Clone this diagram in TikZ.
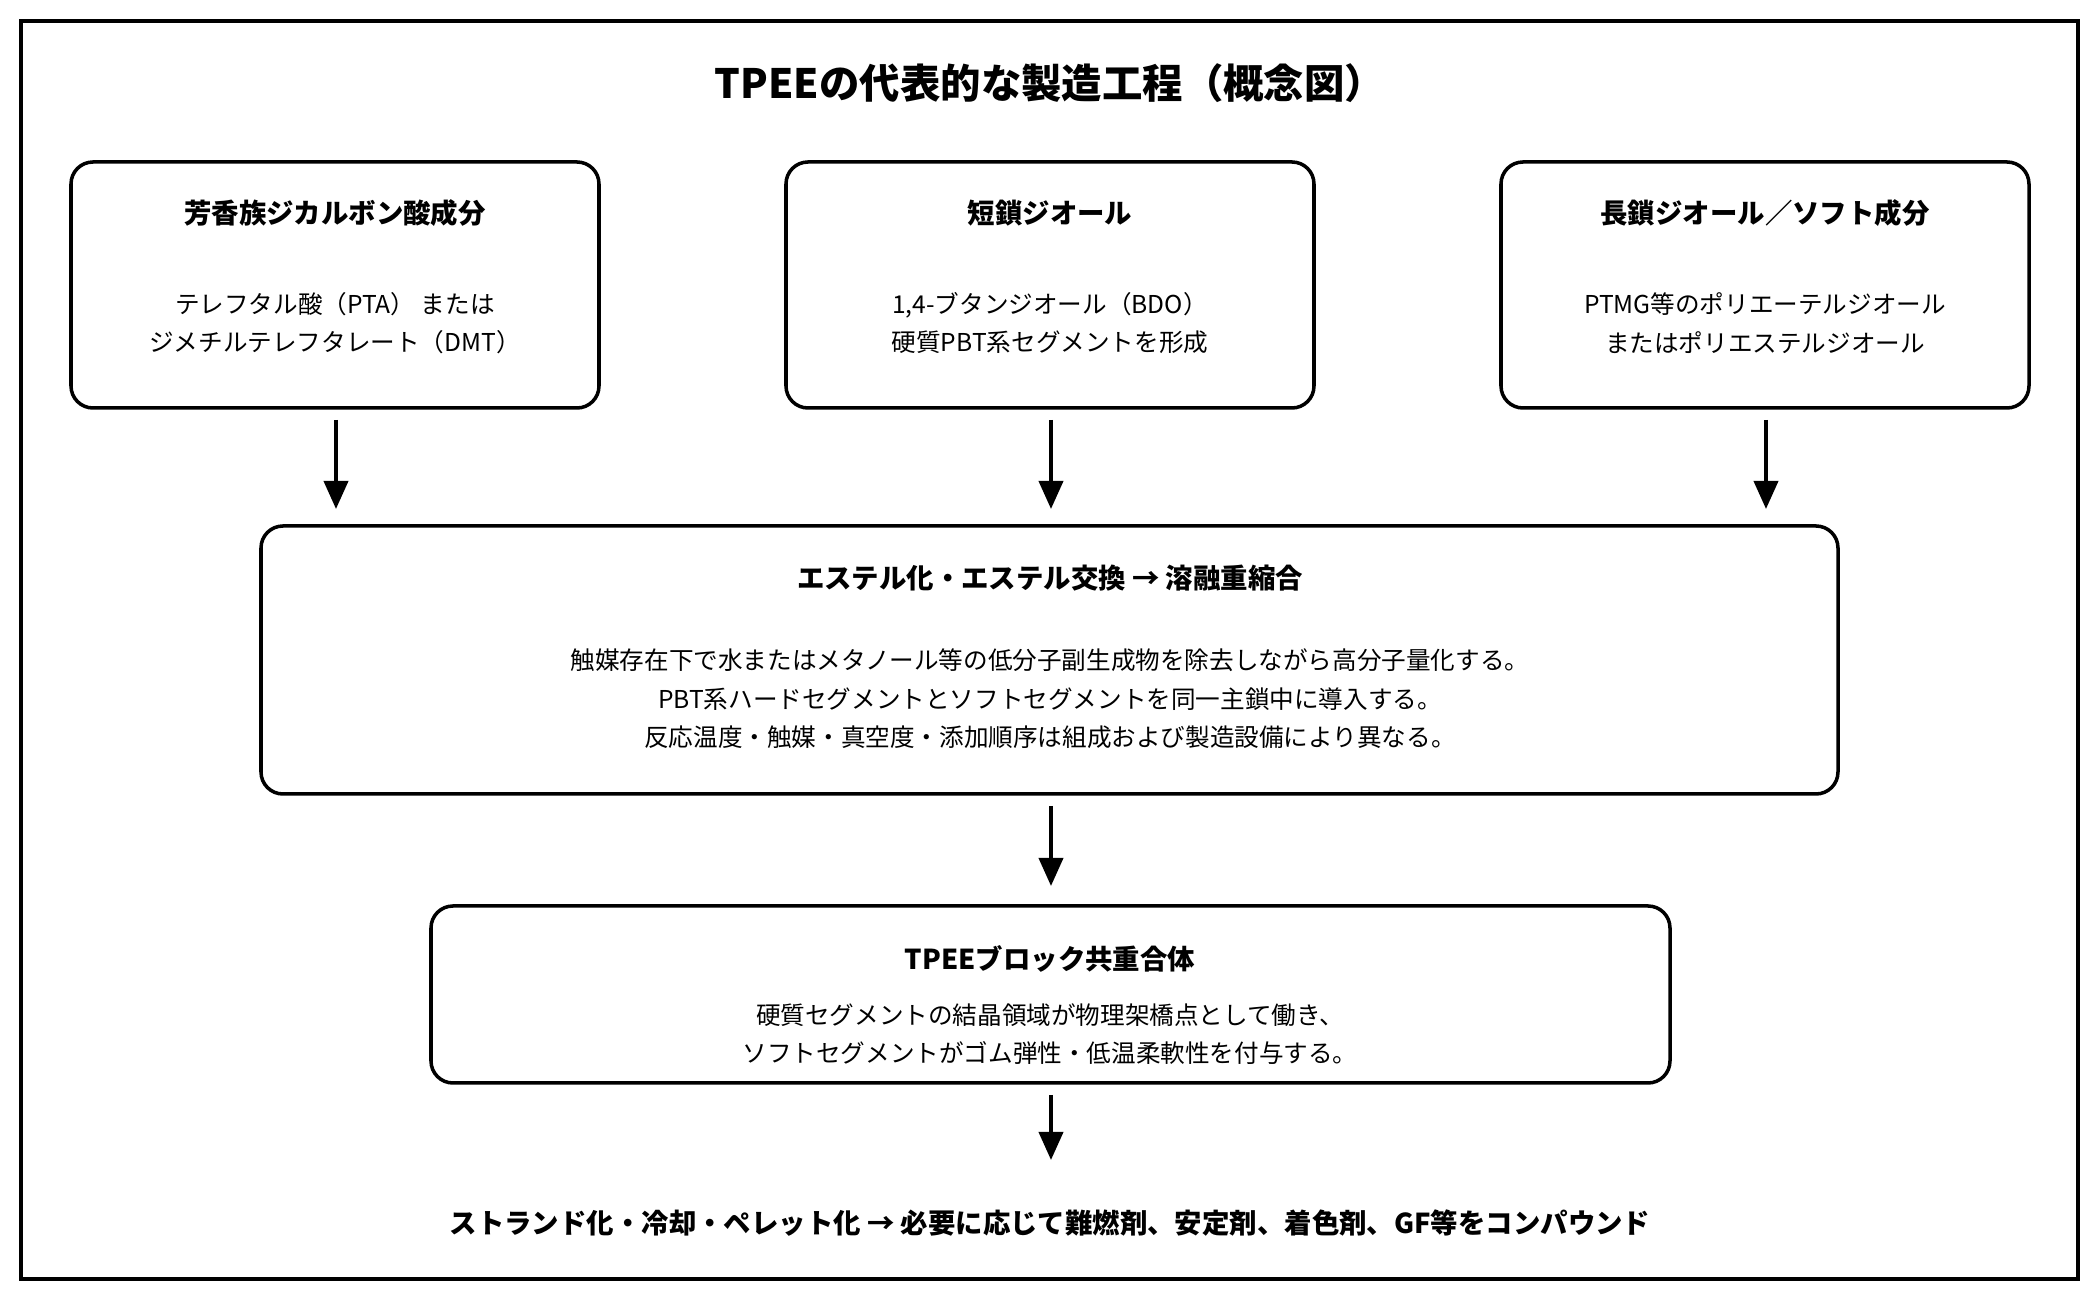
\documentclass[tikz,border=0pt]{standalone}
\usepackage{fontspec}
\setmainfont{Noto Sans CJK JP}
\usetikzlibrary{arrows.meta}
\begin{document}
\begin{tikzpicture}[x=1cm,y=-1cm,
 box/.style={draw,line width=1pt,rounded corners=0.22cm},
 ttl/.style={font=\bfseries\fontsize{7.8}{9}\selectfont},
 body/.style={font=\fontsize{7}{11}\selectfont,align=center},
 arr/.style={-{Triangle[length=0.28cm,width=0.24cm]},line width=1.1pt}]
\useasboundingbox (0,0) rectangle (21,13);
\draw[line width=0.9pt] (0.21,0.21) rectangle (20.78,12.79);
\node[font=\bfseries\fontsize{11.5}{13}\selectfont] (title) at (10.5,0.83) {TPEEの代表的な製造工程（概念図）};
% top boxes
\draw[box] (0.71,1.62) rectangle (5.99,4.08);
\node[ttl] (t1) at (3.35,2.13) {芳香族ジカルボン酸成分};
\node[body] (b1) at (3.35,3.23) {テレフタル酸（PTA） または\\ジメチルテレフタレート（DMT）};
\draw[box] (7.86,1.62) rectangle (13.14,4.08);
\node[ttl] (t2) at (10.5,2.13) {短鎖ジオール};
\node[body] (b2) at (10.5,3.23) {1,4-ブタンジオール（BDO）\\硬質PBT系セグメントを形成};
\draw[box] (15.01,1.62) rectangle (20.29,4.08);
\node[ttl] (t3) at (17.65,2.13) {長鎖ジオール／ソフト成分};
\node[body] (b3) at (17.65,3.23) {PTMG等のポリエーテルジオール\\またはポリエステルジオール};
% arrows
\coordinate (a1s) at (3.36,4.20); \coordinate (a1e) at (3.36,5.09);
\coordinate (a2s) at (10.51,4.20); \coordinate (a2e) at (10.51,5.09);
\coordinate (a3s) at (17.66,4.20); \coordinate (a3e) at (17.66,5.09);
\draw[arr] (a1s) -- (a1e); \draw[arr] (a2s) -- (a2e); \draw[arr] (a3s) -- (a3e);
% middle box
\draw[box] (2.61,5.26) rectangle (18.38,7.94);
\node[ttl] (t4) at (10.5,5.78) {エステル化・エステル交換 → 溶融重縮合};
\node[body] (b4) at (10.5,6.99) {触媒存在下で水またはメタノール等の低分子副生成物を除去しながら高分子量化する。\\PBT系ハードセグメントとソフトセグメントを同一主鎖中に導入する。\\反応温度・触媒・真空度・添加順序は組成および製造設備により異なる。};
\coordinate (a4s) at (10.51,8.06); \coordinate (a4e) at (10.51,8.86);
\draw[arr] (a4s) -- (a4e);
% box 4
\draw[box] (4.31,9.06) rectangle (16.70,10.83);
\node[ttl] (t5) at (10.5,9.59) {TPEEブロック共重合体};
\node[body] (b5) at (10.5,10.34) {硬質セグメントの結晶領域が物理架橋点として働き、\\ソフトセグメントがゴム弾性・低温柔軟性を付与する。};
\coordinate (a5s) at (10.51,10.95); \coordinate (a5e) at (10.51,11.60);
\draw[arr] (a5s) -- (a5e);
\node[ttl] (t6) at (10.5,12.23) {ストランド化・冷却・ペレット化 → 必要に応じて難燃剤、安定剤、着色剤、GF等をコンパウンド};
\end{tikzpicture}
\end{document}
